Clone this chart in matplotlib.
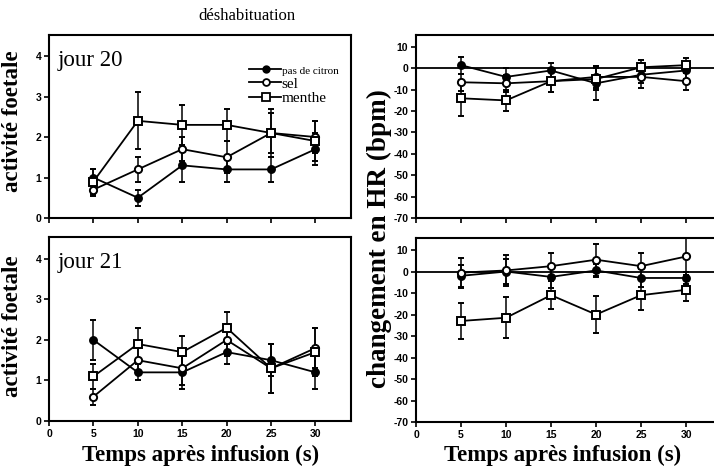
import numpy as np
import matplotlib
matplotlib.use("Agg")
from matplotlib import pyplot as plt
from matplotlib.lines import Line2D
from matplotlib.legend_handler import HandlerLine2DCompound

plt.rcParams['axes.unicode_minus'] = False

# temps apres infusion (s)
temps = [5, 10, 15, 20, 25, 30]
series = ["pas de citron", "sel", "menthe"]

# activite foetale, jour 20
act20_citron = [1.0, 0.5, 1.3, 1.2, 1.2, 1.7]
act20_citron_err = [0.2, 0.2, 0.4, 0.3, 0.3, 0.4]
act20_sel = [0.7, 1.2, 1.7, 1.5, 2.1, 2.0]
act20_sel_err = [0.15, 0.3, 0.3, 0.4, 0.5, 0.4]
act20_menthe = [0.9, 2.4, 2.3, 2.3, 2.1, 1.9]
act20_menthe_err = [0.3, 0.7, 0.5, 0.4, 0.6, 0.5]

# activite foetale, jour 21
act21_citron = [2.0, 1.2, 1.2, 1.7, 1.5, 1.2]
act21_citron_err = [0.5, 0.2, 0.4, 0.3, 0.4, 0.4]
act21_sel = [0.6, 1.5, 1.3, 2.0, 1.3, 1.8]
act21_sel_err = [0.2, 0.3, 0.4, 0.4, 0.6, 0.5]
act21_menthe = [1.1, 1.9, 1.7, 2.3, 1.3, 1.7]
act21_menthe_err = [0.3, 0.4, 0.4, 0.4, 0.6, 0.6]

# changement en HR (bpm), jour 20
hr20_citron = [1.5, -4, -1, -7, -3, -1]
hr20_citron_err = [4, 4, 3.5, 8, 4, 4]
hr20_sel = [-6.5, -7, -6, -4, -4, -6]
hr20_sel_err = [4, 4, 5, 5, 5, 4]
hr20_menthe = [-14, -15, -6, -5, 0.5, 1.5]
hr20_menthe_err = [8.5, 5, 5, 5, 3.5, 3.5]

# changement en HR (bpm), jour 21
hr21_citron = [-2, 0, -2.5, 0.5, -3, -3]
hr21_citron_err = [5, 6, 5, 3, 4, 3]
hr21_sel = [-0.5, 0.5, 2.5, 5.5, 2.5, 7]
hr21_sel_err = [7, 7, 6, 7.5, 6, 8.5]
hr21_menthe = [-23, -21.5, -11, -20, -11, -8.5]
hr21_menthe_err = [8.5, 9.5, 6.5, 8.5, 7, 5]

SERIF = "Liberation Serif"
SANS = "Liberation Sans"

styles = {
    "pas de citron": dict(marker="o", mfc="black", ms=5),
    "sel": dict(marker="o", mfc="white", ms=5.2),
    "menthe": dict(marker="s", mfc="white", ms=5.6),
}

W, H = 714, 469
fig = plt.figure(figsize=(W / 100, H / 100), dpi=100)


def px_axes(left, top, right, bottom):
    return fig.add_axes([left / W, 1 - bottom / H, (right - left) / W, (bottom - top) / H])


ax_a20 = px_axes(49, 35, 351, 218)
ax_a21 = px_axes(49, 237, 351, 421)
ax_h20 = px_axes(416, 35, 714, 218)
ax_h21 = px_axes(416, 238, 714, 422)


def draw(ax, data):
    for name, (y, e) in zip(series, data):
        st = styles[name]
        ax.errorbar(temps, y, yerr=e, color="black", lw=1.3, elinewidth=1.1,
                    capsize=2, capthick=1.1, marker=st["marker"], ms=st["ms"],
                    mfc=st["mfc"], mec="black", mew=1.4, zorder=3)


def style(ax, ylim, yticks, show_xlabels):
    ax.set_xlim(0, 34)
    ax.set_ylim(*ylim)
    ax.set_yticks(yticks)
    ax.set_xticks([0, 5, 10, 15, 20, 25, 30])
    for s in ax.spines.values():
        s.set_linewidth(1.5)
    ax.tick_params(direction="out", length=3.5, width=1.2, labelsize=7.5, pad=2)
    for lab in ax.get_xticklabels() + ax.get_yticklabels():
        lab.set_fontfamily(SANS)
        lab.set_fontweight("bold")
    if not show_xlabels:
        ax.set_xticklabels([])


draw(ax_a20, [(act20_citron, act20_citron_err), (act20_sel, act20_sel_err),
              (act20_menthe, act20_menthe_err)])
draw(ax_a21, [(act21_citron, act21_citron_err), (act21_sel, act21_sel_err),
              (act21_menthe, act21_menthe_err)])
draw(ax_h20, [(hr20_citron, hr20_citron_err), (hr20_sel, hr20_sel_err),
              (hr20_menthe, hr20_menthe_err)])
draw(ax_h21, [(hr21_citron, hr21_citron_err), (hr21_sel, hr21_sel_err),
              (hr21_menthe, hr21_menthe_err)])

style(ax_a20, (0, 4.52), [0, 1, 2, 3, 4], False)
style(ax_a21, (0, 4.54), [0, 1, 2, 3, 4], True)
hr_ticks = [10, 0, -10, -20, -30, -40, -50, -60, -70]
for ax in (ax_h20, ax_h21):
    style(ax, (-70, 15.6), hr_ticks, ax is ax_h21)
    ax.set_xlim(0, 33.1)
    ax.spines["right"].set_visible(False)
    ax.axhline(0, color="black", lw=1.3, zorder=2)

ax_a20.text(0.03, 0.83, "jour 20", transform=ax_a20.transAxes, fontsize=16.5, family=SERIF)
ax_a21.text(0.03, 0.83, "jour 21", transform=ax_a21.transAxes, fontsize=16.5, family=SERIF)


class RightMarker(HandlerLine2DCompound):
    def get_xdata(self, legend, xdescent, ydescent, width, height, fontsize):
        x0 = -xdescent
        return np.array([x0, x0 + width]), np.array([x0 + 0.55 * width])


handles = [Line2D([], [], color="black", lw=1.3, marker=styles[n]["marker"],
                  ms=styles[n]["ms"] - 0.3, mfc=styles[n]["mfc"], mec="black", mew=1.3)
           for n in series]
leg = ax_a20.legend(handles, series, loc="upper left", bbox_to_anchor=(0.636, 0.885),
                    frameon=False, handlelength=2.1, handletextpad=0.05,
                    borderpad=0, labelspacing=0.05, prop={"family": SERIF, "size": 11},
                    handler_map={Line2D: RightMarker()})
leg.get_texts()[0].set_fontsize(8)

fig.text(247 / W, 1 - 16 / H, "déshabituation", ha="center", va="center",
         fontsize=12, family=SERIF)
for yc in (121, 326):
    fig.text(13 / W, 1 - yc / H, "activité foetale", rotation=90, ha="center",
             va="center", fontsize=16.5, fontweight="bold", family=SERIF)
fig.text(379 / W, 1 - 239 / H, "changement en HR (bpm)", rotation=90, ha="center",
         va="center", fontsize=19.5, fontweight="bold", family=SERIF)
for xc in (201, 563):
    fig.text(xc / W, 1 - 455 / H, "Temps après infusion (s)", ha="center",
             va="center", fontsize=16.5, fontweight="bold", family=SERIF)

fig.savefig("out.png", dpi=100)
